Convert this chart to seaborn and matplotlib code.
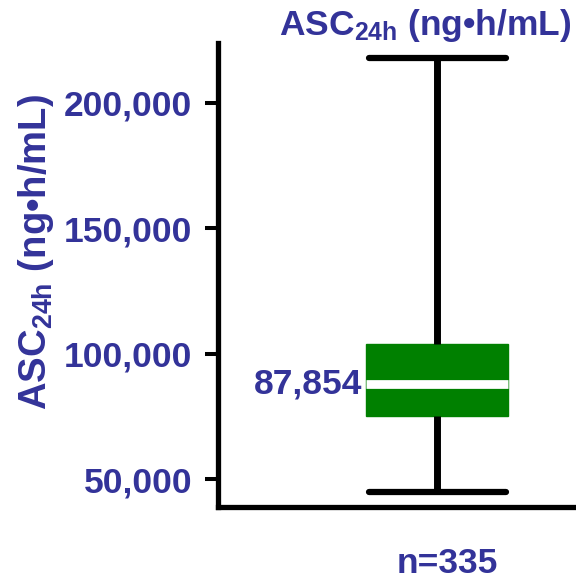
import numpy as np
import pandas as pd
import matplotlib
matplotlib.use("Agg")
import matplotlib.pyplot as plt
import seaborn as sns
from matplotlib.ticker import FuncFormatter

# Data (five-number summary)
summary_values = [45000, 75000, 87854, 104000, 218000]
median_label = "87,854"
n_label = "n=335"
y_ticks = [50000, 100000, 150000, 200000]
title_text = r"ASC$_{\mathbf{24h}}$ (ng•h/mL)"

sns.set_style("white")
plt.rcParams["font.family"] = ["Liberation Sans", "DejaVu Sans"]
plt.rcParams["font.weight"] = "bold"
plt.rcParams["mathtext.fontset"] = "custom"
plt.rcParams["mathtext.rm"] = "Liberation Sans:bold"
plt.rcParams["mathtext.bf"] = "Liberation Sans:bold"
plt.rcParams["mathtext.it"] = "Liberation Sans:bold"

txt_color = "#333399"
fs = 25.5

fig = plt.figure(figsize=(5.76, 5.79), dpi=100)
ax = fig.add_axes([218/576, 1-507/579, 1-218/576, (507-43)/579])

df = pd.DataFrame({"v": summary_values})
box_w = 0.397
sns.boxplot(data=df, y="v", ax=ax, whis=np.inf, width=box_w, color="#008000",
            capwidths=0.383, saturation=1,
            boxprops=dict(facecolor="#008000", edgecolor="#008000", linewidth=1),
            whiskerprops=dict(color="black", linewidth=5),
            capprops=dict(color="black", linewidth=4.5),
            medianprops=dict(color="white", linewidth=6.3, solid_capstyle="butt"))

ax.set_xlim(-0.612, 0.388)
ax.set_ylim(38900, 223800)
ax.set_yticks(y_ticks)
ax.yaxis.set_major_formatter(FuncFormatter(lambda v, p: f"{int(v):,}"))
ax.set_xticks([])
ax.set_xlabel("")
ax.set_ylabel("")
for s in ["top", "right"]:
    ax.spines[s].set_visible(False)
for s in ["left", "bottom"]:
    ax.spines[s].set_linewidth(3.8)
    ax.spines[s].set_color("black")
ax.tick_params(axis="y", which="major", length=9.4, width=2.9, color="black",
               pad=9, labelsize=fs, labelcolor=txt_color, left=True)
for lab in ax.get_yticklabels():
    lab.set_fontweight("bold")

# median label
ax.text(-0.21, summary_values[2], median_label, ha="right", va="center",
        fontsize=fs, fontweight="bold", color=txt_color)

# n label
fig.text(447/576, 1-573/579, n_label, ha="center", va="baseline",
         fontsize=fs, fontweight="bold", color=txt_color)

# title
fig.text(425/576, 1-35/579, title_text, ha="center", va="baseline",
         fontsize=25.5, fontweight="bold", color=txt_color)

# y label
fig.text(36/576, 1-252/579, title_text, ha="center", va="center", rotation=90,
         fontsize=27.5, fontweight="bold", color=txt_color)

fig.savefig("out.png", dpi=100)
